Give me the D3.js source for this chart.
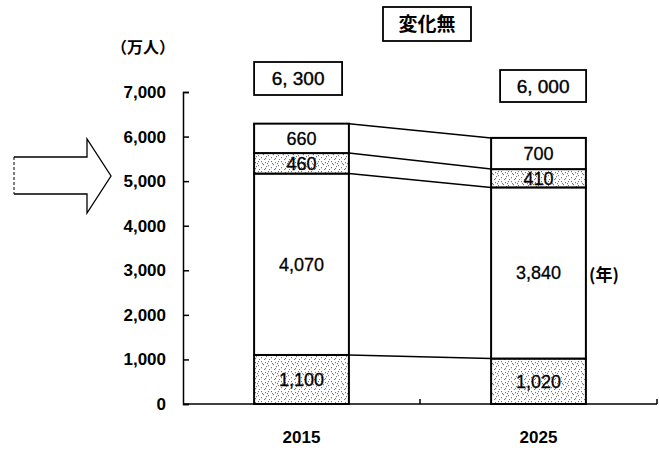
<!DOCTYPE html>
<html>
<head>
<meta charset="utf-8">
<script src="https://cdn.jsdelivr.net/npm/d3@7"></script>
<style>
  body { margin: 0; background: #fff; }
  text { fill: #000; }
</style>
</head>
<body>
<div id="chart"></div>
<script>
// data (万人)
const years = ["2015", "2025"];
const keys = ["s1", "s2", "s3", "s4"];
const s1 = [1100, 1020];   // bottom, stippled
const s2 = [4070, 3840];
const s3 = [460, 410];     // stippled
const s4 = [660, 700];
const totalLabels = ["6, 300", "6, 000"];
const yTicks = [0, 1000, 2000, 3000, 4000, 5000, 6000, 7000];
const stippled = { s1: true, s2: false, s3: true, s4: false };

const rows = years.map((y, i) => ({ year: y, s1: s1[i], s2: s2[i], s3: s3[i], s4: s4[i] }));

const width = 659, height = 461;
const margin = { top: 92, right: 2, bottom: 57, left: 183 };
const numFont = "'Liberation Sans', Arial, sans-serif";
const cjkFont = "'Noto Sans CJK JP', sans-serif";

const svg = d3.select("#chart").append("svg")
  .attr("width", width)
  .attr("height", height);

// stipple pattern
const defs = svg.append("defs");
const pat = defs.append("pattern")
  .attr("id", "dots")
  .attr("patternUnits", "userSpaceOnUse")
  .attr("width", 10)
  .attr("height", 10);
pat.append("rect").attr("width", 10).attr("height", 10).attr("fill", "#fff");
[[1, 1], [5, 2], [3, 4], [8, 5], [1, 7], [5, 8], [8, 1], [2, 3], [6, 6], [9, 9], [4, 9], [7, 3]].forEach(([px, py]) => {
  pat.append("rect").attr("x", px).attr("y", py).attr("width", 1).attr("height", 1.2).attr("fill", "#777");
});

const x = d3.scaleBand()
  .domain(years)
  .range([margin.left, width - margin.right])
  .paddingInner(0.6)
  .paddingOuter(0.3);

const y = d3.scaleLinear()
  .domain([0, 7000])
  .range([height - margin.bottom, margin.top]);

const stacked = d3.stack().keys(keys)(rows);

// connecting lines between bars, at the top of each layer except s2
const x0 = x("2015") + x.bandwidth();
const x1 = x("2025");
stacked.forEach(layer => {
  svg.append("line")
    .attr("x1", x0).attr("y1", y(layer[0][1]))
    .attr("x2", x1).attr("y2", y(layer[1][1]))
    .attr("stroke", "#000")
    .attr("stroke-width", 1.5);
});

// bars
stacked.forEach(layer => {
  const g = svg.append("g");
  g.selectAll("rect")
    .data(layer)
    .join("rect")
    .attr("x", d => x(d.data.year))
    .attr("y", d => y(d[1]))
    .attr("width", x.bandwidth())
    .attr("height", d => y(d[0]) - y(d[1]))
    .attr("fill", stippled[layer.key] ? "url(#dots)" : "#fff")
    .attr("stroke", "#000")
    .attr("stroke-width", 2);

  g.selectAll("text")
    .data(layer)
    .join("text")
    .attr("x", d => x(d.data.year) + x.bandwidth() / 2)
    .attr("y", d => (y(d[0]) + y(d[1])) / 2)
    .attr("dy", "0.36em")
    .attr("text-anchor", "middle")
    .style("font-family", numFont)
    .style("font-size", "18px")
    .style("stroke", "#000")
    .style("stroke-width", 0.3)
    .text(d => d3.format(",")(d.data[layer.key]));
});

// y axis, ticks pointing inward
svg.append("g")
  .attr("transform", `translate(${margin.left},0)`)
  .call(d3.axisLeft(y).tickValues(yTicks).tickFormat(d3.format(","))
    .tickSizeInner(-6).tickSizeOuter(-6).tickPadding(17))
  .call(g => g.selectAll("path, line").attr("stroke", "#000").attr("stroke-width", 1.5))
  .call(g => g.selectAll("text")
    .style("font-family", numFont)
    .style("font-size", "17px")
    .style("font-weight", "bold"));

// x axis
const baseY = y(0);
svg.append("line")
  .attr("x1", margin.left).attr("x2", width - margin.right)
  .attr("y1", baseY).attr("y2", baseY)
  .attr("stroke", "#000").attr("stroke-width", 1.5);
[1, 2].forEach(i => {
  const bx = margin.left + i * x.step();
  svg.append("line")
    .attr("x1", bx).attr("x2", bx)
    .attr("y1", baseY).attr("y2", baseY - 5)
    .attr("stroke", "#000").attr("stroke-width", 1.5);
});
svg.selectAll(".year")
  .data(years)
  .join("text")
  .attr("class", "year")
  .attr("x", d => x(d) + x.bandwidth() / 2)
  .attr("y", baseY + 39)
  .attr("text-anchor", "middle")
  .style("font-family", numFont)
  .style("font-size", "17px")
  .style("font-weight", "bold")
  .text(d => d);

// total boxes
const boxes = [
  { label: totalLabels[0], x: x("2015"), y: 62, w: 88, h: 33 },
  { label: totalLabels[1], x: x("2025") + 9, y: 70, w: 86, h: 32 }
];
boxes.forEach(b => {
  svg.append("rect")
    .attr("x", b.x).attr("y", b.y)
    .attr("width", b.w).attr("height", b.h)
    .attr("fill", "#fff").attr("stroke", "#000").attr("stroke-width", 1.8);
  svg.append("text")
    .attr("x", b.x + b.w / 2).attr("y", b.y + b.h / 2)
    .attr("dy", "0.36em")
    .attr("text-anchor", "middle")
    .style("font-family", numFont)
    .style("font-size", "19px")
    .style("stroke", "#000")
    .style("stroke-width", 0.4)
    .text(b.label);
});

// title box
svg.append("rect")
  .attr("x", 383).attr("y", 7)
  .attr("width", 88).attr("height", 34)
  .attr("fill", "#fff").attr("stroke", "#000").attr("stroke-width", 1.8);
svg.append("text")
  .attr("x", 427).attr("y", 24)
  .attr("dy", "0.36em")
  .attr("text-anchor", "middle")
  .style("font-family", cjkFont)
  .style("font-size", "19px")
  .style("font-weight", "bold")
  .text("変化無");

// unit labels
svg.append("text")
  .attr("x", 143).attr("y", 47)
  .attr("dy", "0.36em")
  .attr("text-anchor", "middle")
  .style("font-family", cjkFont)
  .style("font-size", "16px")
  .style("font-weight", "bold")
  .text("（万人）");

svg.append("text")
  .attr("x", 589).attr("y", 275)
  .attr("dy", "0.36em")
  .style("font-family", cjkFont)
  .style("font-size", "17px")
  .style("font-weight", "bold")
  .text("(年)");

// block arrow on the left
svg.append("path")
  .attr("d", "M14,157 H87 V139 L111,176 L87,213 V194 H14")
  .attr("fill", "#fff")
  .attr("stroke", "#000")
  .attr("stroke-width", 1.3);
svg.append("line")
  .attr("x1", 14).attr("x2", 14).attr("y1", 157).attr("y2", 194)
  .attr("stroke", "#000")
  .attr("stroke-width", 1)
  .attr("stroke-dasharray", "3,2");
</script>
</body>
</html>
